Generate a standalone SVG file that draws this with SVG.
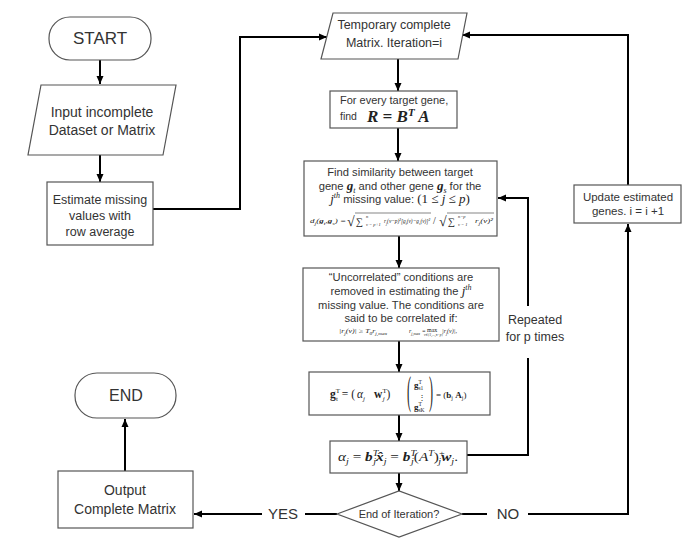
<svg xmlns="http://www.w3.org/2000/svg" width="697" height="547" viewBox="0 0 697 547">
<defs>
<marker id="ah" markerWidth="9" markerHeight="8" refX="8" refY="4" orient="auto" markerUnits="userSpaceOnUse">
<path d="M0,0.5 L8,4 L0,7.5 z" fill="#000"/>
</marker>
<style>
.shape{fill:#fff;stroke:#555;stroke-width:1.2}
.conn{fill:none;stroke:#000;stroke-width:2}
.thin{fill:none;stroke:#333;stroke-width:0.6}
.t{font-family:"Liberation Sans",Arial,sans-serif;fill:#333;text-anchor:middle}
.ts{font-family:"Liberation Sans",Arial,sans-serif;fill:#333}
.m{font-family:"Liberation Serif","DejaVu Serif",serif;fill:#222}
.mi{font-style:italic}
.mb{font-weight:bold}
</style>
</defs>
<rect width="697" height="547" fill="#fff"/>

<g id="connectors">
<line class="conn" x1="100" y1="60" x2="100" y2="84" marker-end="url(#ah)"/>
<line class="conn" x1="100" y1="155" x2="100" y2="182" marker-end="url(#ah)"/>
<polyline class="conn" points="153,209 240,209 240,37 327,37" marker-end="url(#ah)"/>
<line class="conn" x1="398" y1="59" x2="398" y2="91" marker-end="url(#ah)"/>
<line class="conn" x1="398" y1="128" x2="398" y2="161" marker-end="url(#ah)"/>
<line class="conn" x1="399" y1="236" x2="399" y2="268" marker-end="url(#ah)"/>
<line class="conn" x1="399" y1="341" x2="399" y2="372" marker-end="url(#ah)"/>
<line class="conn" x1="399" y1="415" x2="399" y2="441" marker-end="url(#ah)"/>
<line class="conn" x1="399" y1="473" x2="399" y2="491" marker-end="url(#ah)"/>
<polyline class="conn" points="467,455 528,455 528,358"/>
<polyline class="conn" points="528,306 528,198 498,198" marker-end="url(#ah)"/>
<line class="conn" x1="337" y1="514" x2="305" y2="514"/>
<line class="conn" x1="262" y1="514" x2="194" y2="514" marker-end="url(#ah)"/>
<line class="conn" x1="462" y1="514" x2="487" y2="514"/>
<polyline class="conn" points="528,514 628,514 628,224" marker-end="url(#ah)"/>
<polyline class="conn" points="628,185 628,35 462,35" marker-end="url(#ah)"/>
<line class="conn" x1="125" y1="471" x2="125" y2="419" marker-end="url(#ah)"/>
<text class="t" x="283" y="519" font-size="15">YES</text>
<text class="t" x="508" y="519" font-size="15">NO</text>
<text class="t" x="535" y="324" font-size="12.5">Repeated</text>
<text class="t" x="535" y="341" font-size="12.5">for p times</text>
</g>

<g id="start">
<rect class="shape" x="49" y="17" width="102" height="43" rx="21"/>
<text class="t" x="100" y="44" font-size="17">START</text>
</g>

<g id="input">
<polygon class="shape" points="41,85 176,85 163,155 28,155"/>
<text class="t" x="102" y="117" font-size="14">Input incomplete</text>
<text class="t" x="102" y="135" font-size="14">Dataset or Matrix</text>
</g>

<g id="estimate">
<rect class="shape" x="47" y="182" width="106" height="63"/>
<text class="t" x="100" y="204" font-size="12.5">Estimate missing</text>
<text class="t" x="100" y="220" font-size="12.5">values with</text>
<text class="t" x="100" y="236" font-size="12.5">row average</text>
</g>

<g id="temporary">
<polygon class="shape" points="333,13 467,13 458,59 321,59"/>
<text class="t" x="394" y="29" font-size="12.5">Temporary complete</text>
<text class="t" x="394" y="47" font-size="12.5">Matrix. Iteration=i</text>
</g>

<g id="findR">
<rect class="shape" x="330" y="91" width="127" height="37"/>
<text class="ts" x="340" y="104" font-size="11">For every target gene,</text>
<text class="ts" x="340" y="120" font-size="10.5">find</text>
<text class="m mi mb" x="367" y="122" font-size="17">R = B<tspan font-size="11" dy="-6">T</tspan><tspan dy="6"> A</tspan></text>
</g>

<g id="similarity">
<rect class="shape" x="304" y="161" width="193" height="75"/>
<text class="t" x="400" y="176" font-size="11.2">Find similarity between target</text>
<text class="t" x="400" y="190" font-size="11.2">gene <tspan class="m mi mb" font-size="13">g</tspan><tspan class="m mi" font-size="8" dy="3">t</tspan><tspan dy="-3"> and other gene </tspan><tspan class="m mi mb" font-size="13">g</tspan><tspan class="m mi" font-size="8" dy="3">s</tspan><tspan dy="-3"> for the</tspan></text>
<text class="t" x="400" y="203" font-size="11.2"><tspan class="m mi" font-size="13">j</tspan><tspan class="m mi" font-size="8" dy="-5">th</tspan><tspan dy="5"> missing value: </tspan><tspan class="m" font-size="13">(1 ≤ <tspan class="mi">j</tspan> ≤ <tspan class="mi">p</tspan>)</tspan></text>
<text class="m mi" x="310" y="223" font-size="6.5" textLength="36" lengthAdjust="spacingAndGlyphs">d<tspan font-size="4.5" dy="1.5">j</tspan><tspan dy="-1.5">(</tspan><tspan font-weight="bold">g</tspan><tspan font-size="4.5" dy="1.5">t</tspan><tspan dy="-1.5">,</tspan><tspan font-weight="bold">g</tspan><tspan font-size="4.5" dy="1.5">s</tspan><tspan dy="-1.5">) =</tspan></text>
<text class="m" x="347" y="226" font-size="14">√</text>
<line class="thin" x1="355" y1="213" x2="431" y2="213"/>
<text class="m" x="356" y="225" font-size="10">∑</text>
<text class="m mi" x="366" y="218" font-size="4.5">n</text>
<text class="m mi" x="366" y="226" font-size="4.5">v = p+1</text>
<text class="m mi" x="384" y="223" font-size="6.5" textLength="46" lengthAdjust="spacingAndGlyphs">r<tspan font-size="4.5" dy="1.5">j</tspan><tspan dy="-1.5">(v−p)²[g</tspan><tspan font-size="4.5" dy="1.5">t</tspan><tspan dy="-1.5">(v)−g</tspan><tspan font-size="4.5" dy="1.5">s</tspan><tspan dy="-1.5">(v)]²</tspan></text>
<text class="m" x="433" y="224" font-size="10">/</text>
<text class="m" x="439" y="226" font-size="14">√</text>
<line class="thin" x1="447" y1="213" x2="494" y2="213"/>
<text class="m" x="448" y="225" font-size="10">∑</text>
<text class="m mi" x="458" y="218" font-size="4.5">n−p</text>
<text class="m mi" x="458" y="226" font-size="4.5">v = 1</text>
<text class="m mi" x="475" y="223" font-size="6.5" textLength="18" lengthAdjust="spacingAndGlyphs">r<tspan font-size="4.5" dy="1.5">j</tspan><tspan dy="-1.5">(v)²</tspan></text>
</g>

<g id="uncorrelated">
<rect class="shape" x="303" y="268" width="196" height="73"/>
<text class="t" x="401" y="281" font-size="11.2">“Uncorrelated” conditions are</text>
<text class="t" x="401" y="295" font-size="11.2">removed  in estimating the <tspan class="m mi" font-size="13">j</tspan><tspan class="m mi" font-size="8" dy="-5">th</tspan></text>
<text class="t" x="401" y="309" font-size="11.2">missing value. The conditions are</text>
<text class="t" x="401" y="322" font-size="11.2">said to be correlated if:</text>
<text class="m mi" x="339" y="333" font-size="6" textLength="48" lengthAdjust="spacingAndGlyphs">|r<tspan font-size="4" dy="1.5">j</tspan><tspan dy="-1.5">(v)| ≥ T</tspan><tspan font-size="4" dy="1.5">0</tspan><tspan dy="-1.5">r</tspan><tspan font-size="4" dy="1.5">j,max</tspan></text>
<text class="m mi" x="409" y="333" font-size="6">r<tspan font-size="4" dy="1.5">j,max</tspan><tspan dy="-1.5"> = </tspan></text>
<text class="m" x="427" y="332" font-size="6">max</text>
<text class="m mi" x="424" y="336" font-size="3.5">v∈{1,...,n−p}</text>
<text class="m mi" x="442" y="333" font-size="6">|r<tspan font-size="4" dy="1.5">j</tspan><tspan dy="-1.5">(v)|,</tspan></text>
</g>

<g id="regression">
<rect class="shape" x="309" y="372" width="181" height="43"/>
<text class="m" x="330" y="398" font-size="11.5"><tspan class="mb">g</tspan><tspan font-size="7" dy="-5">T</tspan><tspan font-size="7" dx="-4" dy="8">t</tspan><tspan dy="-3" dx="1"> = (</tspan><tspan class="mi" dx="2">α</tspan><tspan class="mi" font-size="7" dy="3">j</tspan><tspan class="mb" dy="-3" dx="9">w</tspan><tspan font-size="7" dy="-5">T</tspan><tspan class="mi" font-size="7" dx="-4" dy="8">j</tspan><tspan dy="-3" dx="2">)</tspan></text>
<text class="m" transform="translate(407,404) scale(1,3.4)" font-size="12">(</text>
<text class="m" transform="translate(429,404) scale(1,3.4)" font-size="12">)</text>
<text class="m" x="414" y="388" font-size="9"><tspan class="mb">g</tspan><tspan font-size="5.5" dy="-4">T</tspan><tspan font-size="5.5" dx="-3" dy="6">s1</tspan></text>
<text class="m" x="418" y="400" font-size="8">⋮</text>
<text class="m" x="414" y="410" font-size="9"><tspan class="mb">g</tspan><tspan font-size="5.5" dy="-4">T</tspan><tspan font-size="5.5" dx="-3" dy="6">sK</tspan></text>
<text class="m" x="436" y="398" font-size="9">= (<tspan class="mb">b</tspan><tspan font-size="6" dy="2">j</tspan><tspan dy="-2">    </tspan><tspan class="mb">A</tspan><tspan font-size="6" dy="2">j</tspan><tspan dy="-2">)</tspan></text>
</g>

<g id="alpha">
<rect class="shape" x="330" y="441" width="137" height="32"/>
<text class="m" x="338" y="461" font-size="12" textLength="120" lengthAdjust="spacingAndGlyphs"><tspan class="mi">α</tspan><tspan class="mi" font-size="8" dy="3">j</tspan><tspan dy="-3"> = </tspan><tspan class="mi mb">b</tspan><tspan class="mi" font-size="8" dy="-5">T</tspan><tspan class="mi" font-size="8" dx="-4" dy="8">j</tspan><tspan class="mi mb" dy="-3">x̂</tspan><tspan class="mi" font-size="8" dy="3">j</tspan><tspan dy="-3"> = </tspan><tspan class="mi mb">b</tspan><tspan class="mi" font-size="8" dy="-5">T</tspan><tspan class="mi" font-size="8" dx="-4" dy="8">j</tspan><tspan dy="-3">(</tspan><tspan class="mi">A</tspan><tspan class="mi" font-size="8" dy="-5">T</tspan><tspan dy="5">)</tspan><tspan font-size="8" dy="-5">+</tspan><tspan class="mi" font-size="8" dx="-5" dy="8">j</tspan><tspan class="mi mb" dy="-3">w</tspan><tspan class="mi" font-size="8" dy="3">j</tspan><tspan dy="-3">.</tspan></text>
</g>

<g id="decision">
<polygon class="shape" points="337,514 399,491 462,514 399,537"/>
<text class="t" x="399" y="518" font-size="11">End of Iteration?</text>
</g>

<g id="output">
<rect class="shape" x="58" y="471" width="135" height="57"/>
<text class="t" x="125" y="495" font-size="14">Output</text>
<text class="t" x="125" y="514" font-size="14">Complete Matrix</text>
</g>

<g id="end">
<rect class="shape" x="75" y="373" width="101" height="45" rx="22"/>
<text class="t" x="126" y="401" font-size="16">END</text>
</g>

<g id="update">
<rect class="shape" x="574" y="185" width="107" height="38"/>
<text class="t" x="628" y="201" font-size="11.5">Update estimated</text>
<text class="t" x="628" y="215" font-size="11.5">genes. i = i +1</text>
</g>
</svg>
